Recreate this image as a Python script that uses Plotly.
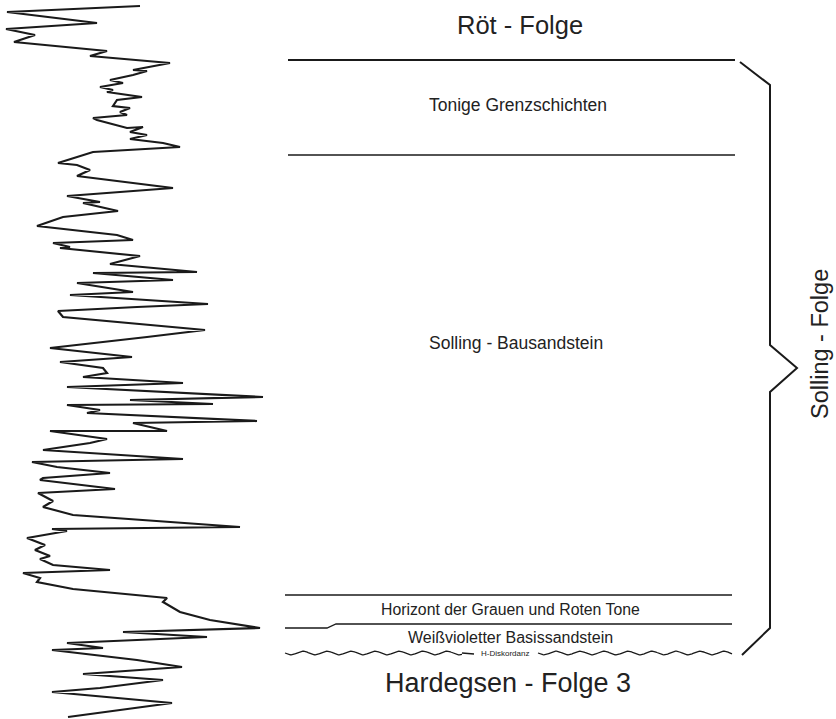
import numpy as np
import plotly.graph_objects as go

# Log curve (x = log value in page units, y = depth in page units)
log_x = [140, 70, 7, 97, 6, 35, 14, 107, 90, 170, 133, 147, 133, 110, 123, 100, 113, 107, 142, 117, 113, 130, 120, 127, 93,
         97, 127, 143, 130, 147, 130, 163, 180, 93, 58, 77, 90, 77, 173, 67, 100, 83, 118, 63, 37, 117, 133,
         53, 70, 60, 140, 110, 197, 93, 173, 77, 133, 70, 208, 137, 58, 63, 205, 147, 50, 132,
         60, 103, 107, 83, 183, 67, 263, 130, 213, 67, 100, 87, 257, 133, 167, 50, 107, 90, 43, 183, 32, 57, 110, 43,
         40, 115, 38, 53, 43, 73, 240, 52, 67, 27, 45, 35, 50, 40, 53, 110, 23, 40, 37, 73, 167,
         163, 180, 210, 260, 123, 207, 67, 103, 52, 137, 182, 83, 163, 100, 52, 172, 68]
log_y = [6, 9, 12, 23, 29, 35, 42, 51, 56, 63, 70, 71, 75, 80, 83, 87, 90, 92, 97, 100, 106, 108, 112, 115, 118,
         120, 128, 127, 132, 135, 139, 143, 147, 152, 163, 165, 170, 176, 188, 196, 202, 203, 211, 217, 226, 235, 240,
         243, 247, 248, 256, 264, 272, 273, 280, 283, 292, 295, 304, 307, 311, 317, 330, 337, 348, 357,
         362, 368, 373, 377, 383, 387, 397, 400, 404, 405, 410, 413, 421, 423, 431, 431, 439, 443, 450, 459, 462, 467, 473, 478,
         480, 489, 493, 501, 507, 515, 527, 529, 531, 538, 545, 550, 556, 559, 565, 570, 573, 578, 582, 589, 598,
         602, 612, 620, 628, 632, 637, 643, 648, 650, 660, 667, 674, 680, 688, 692, 703, 717]

# Unit boundaries (depth in page units)
boundary_names = ["Röt/Solling", "Tonige Grenzschichten", "Horizont", "Basissandstein"]
boundary_depths = [60, 155, 595, 624]
diskordanz_depth = 653

unit_labels = ["Tonige Grenzschichten", "Solling - Bausandstein",
               "Horizont der Grauen und Roten Tone", "Weißvioletter Basissandstein"]
unit_label_depths = [105, 343, 609, 637]
unit_label_x = [518, 516, 510, 510]
unit_label_sizes = [17.5, 17.5, 15.8, 16]

fig = go.Figure()

fig.add_trace(go.Scatter(x=log_x, y=log_y, mode="lines",
                         line=dict(color="#1a1a1a", width=2.2), hoverinfo="skip"))

# horizontal boundaries
for i, d in enumerate(boundary_depths):
    if i == 3:
        fig.add_trace(go.Scatter(x=[285, 327, 336, 732], y=[628, 628, d, d], mode="lines",
                                 line=dict(color="#1a1a1a", width=1.3), hoverinfo="skip"))
    else:
        fig.add_trace(go.Scatter(x=[288 if i < 2 else 285, 735 if i < 2 else 732], y=[d, d], mode="lines",
                                 line=dict(color="#1a1a1a", width=2 if i == 0 else 1.3), hoverinfo="skip"))

# wavy unconformity (decorative symbol)
for xa, xb in [(285, 462), (538, 732)]:
    wx = np.linspace(xa, xb, 200)
    wy = diskordanz_depth + 1.8 * np.sin((wx - xa) / 24 * 2 * np.pi)
    fig.add_trace(go.Scatter(x=wx, y=wy, mode="lines", line=dict(color="#1a1a1a", width=1.3), hoverinfo="skip"))
fig.add_trace(go.Scatter(x=[462, 474], y=[diskordanz_depth, diskordanz_depth + 1], mode="lines",
                         line=dict(color="#1a1a1a", width=1.3), hoverinfo="skip"))

# brace
fig.add_trace(go.Scatter(x=[740, 770, 770, 797, 770, 770, 742],
                         y=[62, 85, 345, 368, 392, 628, 655], mode="lines",
                         line=dict(color="#1a1a1a", width=2), hoverinfo="skip"))

font = "Liberation Sans, Arial, sans-serif"
tc = "#222222"
for lbl, d, xx, s in zip(unit_labels, unit_label_depths, unit_label_x, unit_label_sizes):
    fig.add_annotation(x=xx, y=d, text=lbl, showarrow=False,
                       font=dict(family=font, size=s, color=tc))

fig.add_annotation(x=505, y=diskordanz_depth, text="H-Diskordanz", showarrow=False,
                   font=dict(family=font, size=8, color="#222222"))
fig.add_annotation(x=520, y=25, text="Röt - Folge", showarrow=False,
                   font=dict(family=font, size=25.5, color=tc))
fig.add_annotation(x=508, y=683, text="Hardegsen - Folge 3", showarrow=False,
                   font=dict(family=font, size=27, color=tc))
fig.add_annotation(x=820, y=344, text="Solling - Folge", showarrow=False, textangle=-90,
                   font=dict(family=font, size=23.5, color=tc))

fig.update_layout(width=836, height=719, margin=dict(l=0, r=0, t=0, b=0),
                  paper_bgcolor="white", plot_bgcolor="white", showlegend=False,
                  xaxis=dict(range=[0, 836], visible=False, fixedrange=True),
                  yaxis=dict(range=[719, 0], visible=False, fixedrange=True))

fig.write_html("out.html", config={"displayModeBar": False},
               post_script="document.body.style.margin='0';document.body.style.overflow='hidden';")
